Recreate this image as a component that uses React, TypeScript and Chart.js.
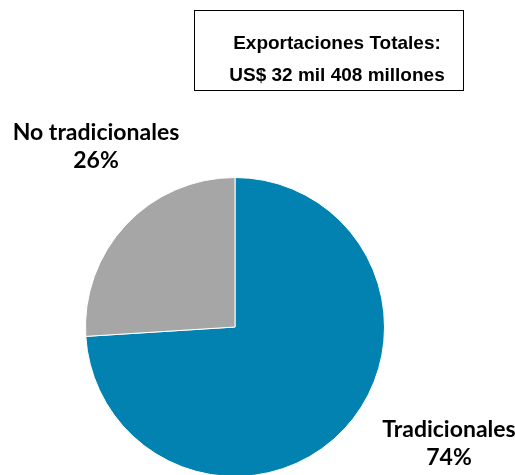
import React, { useEffect, useRef } from "react";
import { Chart, registerables } from "chart.js";

Chart.register(...registerables);

const categories = ["Tradicionales", "No tradicionales"];
const shares = [74, 26];
const colors = ["#0282B0", "#A6A6A6"];
const titleLines = ["Exportaciones Totales:", "US$ 32 mil 408 millones"];

export default function App() {
  const ref = useRef<HTMLCanvasElement | null>(null);

  useEffect(() => {
    if (!ref.current) return;
    const chart = new Chart(ref.current, {
      type: "pie",
      data: {
        labels: categories,
        datasets: [
          {
            data: shares,
            backgroundColor: colors,
            borderColor: "#FFFFFF",
            borderWidth: 1,
          },
        ],
      },
      options: {
        animation: false,
        responsive: false,
        maintainAspectRatio: false,
        layout: { padding: { left: 85, right: 130, top: 177, bottom: 23 } },
        plugins: { legend: { display: false }, tooltip: { enabled: false } },
      },
    });
    return () => chart.destroy();
  }, []);

  const labelStyle: React.CSSProperties = {
    position: "absolute",
    fontFamily: "Lato, 'Open Sans', sans-serif",
    fontWeight: 700,
    fontSize: 23,
    color: "#000",
    textAlign: "center",
    lineHeight: "27.5px",
    whiteSpace: "nowrap",
  };

  const titleLine: React.CSSProperties = {
    position: "absolute",
    left: 16,
    right: 0,
    lineHeight: "24px",
    whiteSpace: "nowrap",
  };

  return (
    <div style={{ position: "absolute", left: 0, top: 0, width: 515, height: 475, overflow: "hidden", background: "#fff" }}>
      <canvas ref={ref} width={515} height={500} style={{ position: "absolute", left: 0, top: 0, width: 515, height: 500 }} />
      <div
        style={{
          position: "absolute",
          left: 194,
          top: 10,
          width: 268,
          height: 79,
          border: "1px solid #000",
          fontFamily: "'Liberation Sans', Arial, sans-serif",
          fontWeight: 700,
          fontSize: 19,
          textAlign: "center",
          color: "#000",
        }}
      >
        <div style={{ ...titleLine, top: 20 }}>{titleLines[0]}</div>
        <div style={{ ...titleLine, top: 52 }}>{titleLines[1]}</div>
      </div>
      <div style={{ ...labelStyle, left: 0, width: 192, top: 118 }}>
        {categories[1]}
        <br />
        {shares[1]}%
      </div>
      <div style={{ ...labelStyle, left: 354, width: 190, top: 415 }}>
        {categories[0]}
        <br />
        {shares[0]}%
      </div>
    </div>
  );
}
